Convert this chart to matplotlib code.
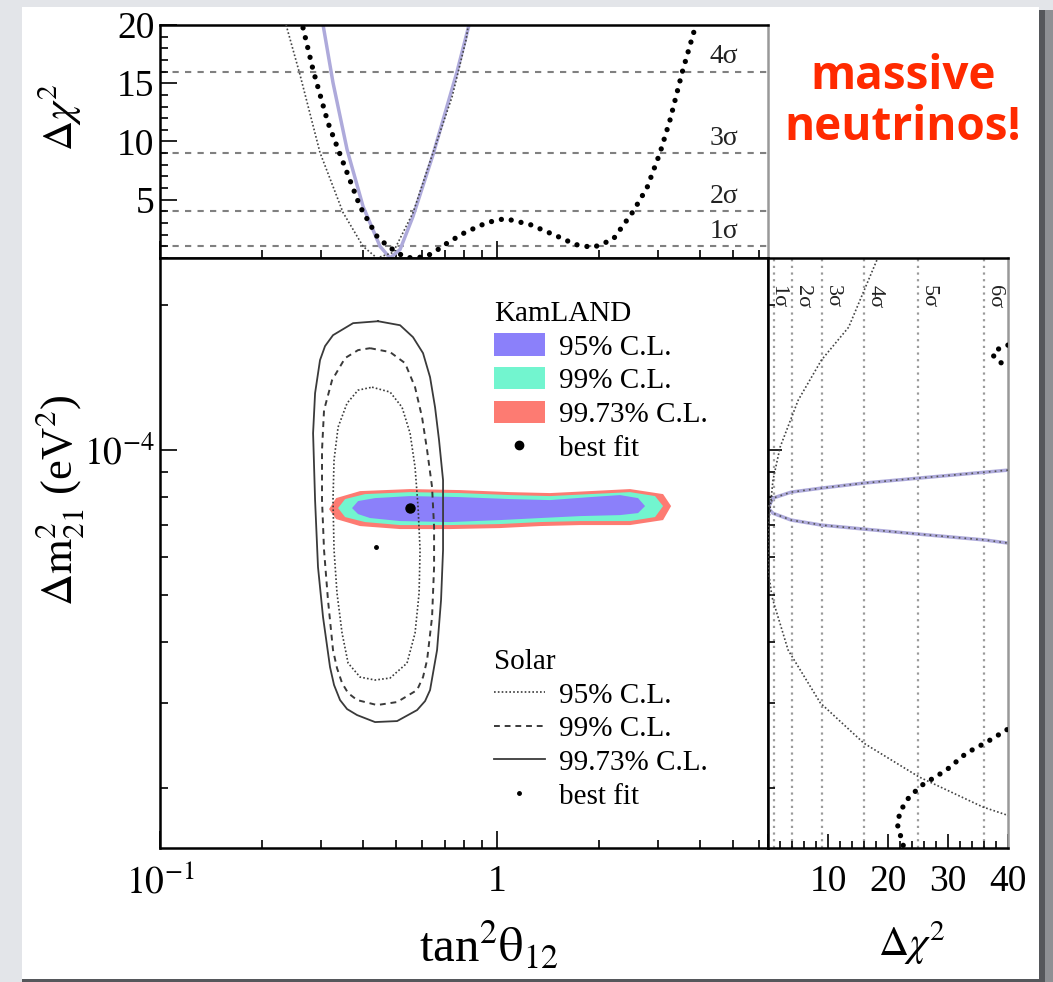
import numpy as np
import matplotlib.pyplot as plt
from matplotlib.patches import Rectangle, Patch
from matplotlib.lines import Line2D
from matplotlib.ticker import MultipleLocator, NullFormatter

plt.rcParams["font.family"] = ["Liberation Serif", "DejaVu Serif"]
plt.rcParams["mathtext.fontset"] = "stix"

# ---- data (tan^2 theta12, dm2 in 1e-5 eV^2, delta chi^2) ----
# KamLAND allowed regions, closed outlines
kl95_tan = [0.3713, 0.3869, 0.4345, 0.5519, 0.7764, 1.093, 1.436, 1.888, 2.317, 2.62, 2.749,
            2.62, 2.317, 1.763, 1.341, 1.021, 0.7253, 0.5155, 0.42, 0.3869]
kl95_dm = [7.585, 7.843, 7.955, 8.032, 7.993, 7.918, 7.88, 7.993, 8.07, 7.955, 7.658,
           7.406, 7.336, 7.301, 7.233, 7.164, 7.096, 7.13, 7.233, 7.371]
kl99_tan = [0.3375, 0.354, 0.4058, 0.5519, 0.7764, 1.093, 1.436, 1.888, 2.481, 2.943, 3.109,
            2.943, 2.481, 1.763, 1.341, 1.021, 0.7253, 0.5155, 0.4058, 0.354]
kl99_dm = [7.585, 7.918, 8.108, 8.185, 8.148, 8.07, 8.032, 8.108, 8.185, 8.032, 7.658,
           7.267, 7.13, 7.13, 7.096, 7.029, 6.995, 6.995, 7.096, 7.267]
kl997_tan = [0.3173, 0.333, 0.3922, 0.5519, 0.7764, 1.093, 1.436, 1.888, 2.481, 3.109, 3.284,
             3.109, 2.481, 1.763, 1.341, 1.021, 0.7253, 0.5155, 0.3922, 0.333]
kl997_dm = [7.549, 7.955, 8.225, 8.305, 8.265, 8.185, 8.148, 8.225, 8.305, 8.108, 7.658,
            7.164, 6.995, 6.995, 6.962, 6.896, 6.863, 6.863, 6.962, 7.198]
kl_best = (0.552, 7.58)

# Solar allowed regions, closed outlines
sol95_tan = [0.4257, 0.4815, 0.5224, 0.5519, 0.571, 0.5829, 0.5909, 0.587, 0.571, 0.5406, 0.4815,
             0.4345, 0.3922, 0.3614, 0.3468, 0.335, 0.3283, 0.326, 0.3283, 0.3375, 0.3589, 0.3869]
sol95_dm = [13.5, 13.19, 12.27, 10.84, 9.222, 7.62, 6.209, 5.057, 4.179, 3.622, 3.373,
            3.341, 3.388, 3.622, 4.179, 5.057, 6.209, 7.88, 9.535, 11.16, 12.51, 13.31]
sol99_tan = [0.42, 0.4815, 0.5333, 0.571, 0.599, 0.62, 0.6414, 0.6503, 0.6503, 0.6414, 0.62, 0.603,
             0.579, 0.5051, 0.4405, 0.3842, 0.3614, 0.3468, 0.335, 0.326, 0.315, 0.3066, 0.3024,
             0.3024, 0.3066, 0.3239, 0.354, 0.3869]
sol99_dm = [16.26, 15.96, 15.14, 13.5, 11.7, 10.0, 8.384, 6.929, 5.727, 4.511, 3.675, 3.388,
            3.185, 3.008, 2.965, 3.037, 3.14, 3.293, 3.537, 3.854, 4.892, 6.209, 7.88,
            10.0, 12.1, 13.96, 15.51, 16.11]
sol997_tan = [0.4435, 0.5155, 0.563, 0.603, 0.6327, 0.6546, 0.6727, 0.6914, 0.6914, 0.6914, 0.682,
              0.6637, 0.6327, 0.6115, 0.579, 0.5051, 0.4345, 0.3842, 0.3589, 0.342, 0.3283,
              0.3194, 0.3045, 0.2942, 0.2884, 0.2845, 0.2884, 0.2983, 0.3087, 0.326, 0.3739]
sol997_dm = [18.49, 18.14, 17.14, 15.88, 14.16, 12.27, 10.49, 8.668, 7.267, 6.209, 4.892,
             3.854, 3.185, 3.022, 2.895, 2.747, 2.734, 2.827, 2.909, 3.037, 3.263,
             3.554, 4.511, 5.727, 7.88, 10.84, 13.12, 15.36, 16.42, 17.3, 18.32]
sol_best = (0.437, 6.3)

# delta chi^2 profiles vs tan^2 theta12 (top panel)
top_kl_tan = [0.2656, 0.2844, 0.315, 0.3468, 0.3922, 0.4405, 0.4749, 0.53, 0.56, 0.60, 0.6241,
              0.6682, 0.7155, 0.8035, 0.934, 1.056, 1.253, 1.538, 1.704, 1.927, 2.209, 2.532,
              2.787, 3.046, 3.262, 3.54, 3.868]
top_kl_chi = [19.75, 16.15, 11.6, 8.44, 4.41, 1.84, 0.99, 0.1, 0.0, 0.08, 0.21,
              0.73, 1.33, 2.19, 3.04, 3.38, 2.87, 1.76, 1.16, 0.9, 1.59, 3.98,
              6.04, 9.04, 11.87, 15.9, 19.75]
top_sol_tan = [0.2366, 0.2602, 0.2983, 0.3491, 0.4004, 0.44, 0.4913, 0.5634, 0.6457, 0.7356, 0.8091, 0.8204]
top_sol_chi = [20.0, 15.72, 9.04, 3.9, 0.99, 0.0, 0.47, 3.9, 9.04, 13.84, 18.72, 19.84]
top_glob_tan = [0.3046, 0.326, 0.3589, 0.4004, 0.4496, 0.4815, 0.5155, 0.563, 0.6457, 0.7606, 0.8257]
top_glob_chi = [20.0, 15.04, 9.3, 4.41, 0.99, 0.0, 0.73, 3.56, 8.87, 15.98, 20.0]

# delta chi^2 profiles vs dm2 (right panel)
r_glob_chi = [40, 36.3, 25.04, 15.97, 8.91, 3.87, 0.84, 0.0, 0.84, 3.87, 8.91, 15.97, 25.04, 36.3, 40]
r_glob_dm = [9.09, 9.004, 8.749, 8.545, 8.343, 8.185, 7.955, 7.585, 7.40, 7.164, 6.995, 6.863, 6.701, 6.512, 6.42]
r_kl_hi_chi = [40, 37.98, 37.48, 38.66, 40]
r_kl_hi_dm = [16.5, 16.11, 15.73, 15.21, 14.93]
r_kl_lo_chi = [23.0, 21.51, 22.18, 23.53, 25.71, 29.75, 33.1, 36.47, 40]
r_kl_lo_dm = [1.45, 1.689, 1.798, 1.912, 2.025, 2.175, 2.359, 2.485, 2.644]
r_sol_chi = [18.15, 13.45, 8.91, 5.04, 2.02, 0.84, 0.17, 0.0, 0.17, 0.67, 3.36, 8.74, 15.97, 25.2, 35.8, 40.3]
r_sol_dm = [24.74, 17.97, 15.36, 12.69, 10.14, 8.668, 7.164, 6.3, 5.51, 4.963, 3.854, 2.994, 2.473, 2.104, 1.824, 1.747]

sigma_levels = [1, 4, 9, 16, 25, 36]
sigma_labels = ["1σ", "2σ", "3σ", "4σ", "5σ", "6σ"]
sigma_text_x = [0.0, 4.2, 9.2, 16.2, 25.2, 36.2]

c95, c99, c997 = "#8b80fa", "#72f5cf", "#fd7b72"
c_glob = "#aeaadb"
c_sol = "#3a3a3a"
E5 = 1e-5

fig = plt.figure(figsize=(10.53, 9.82), dpi=100)
fig.patch.set_facecolor("#e3e5e9")
fig.add_artist(Rectangle((22 / 1053, 3 / 982), 1017 / 1053, 972 / 982, transform=fig.transFigure,
                         facecolor="white", edgecolor="none", zorder=-5))
fig.add_artist(Rectangle((1039 / 1053, 0), 6 / 1053, 972 / 982, transform=fig.transFigure,
                         facecolor="#55575b", edgecolor="none", zorder=-5))
fig.add_artist(Rectangle((1045 / 1053, 0), 8 / 1053, 972 / 982, transform=fig.transFigure,
                         facecolor="#8e9094", edgecolor="none", zorder=-5))
fig.add_artist(Rectangle((22 / 1053, 0), 1017 / 1053, 3 / 982, transform=fig.transFigure,
                         facecolor="#55575b", edgecolor="none", zorder=-5))

ax_top = fig.add_axes([0.152, 0.7373, 0.5774, 0.2373])
ax = fig.add_axes([0.152, 0.1365, 0.5774, 0.6008])
ax_r = fig.add_axes([0.7293, 0.1365, 0.2279, 0.6008])

xlim = (0.1, 6.37)
ylim = (1.5e-5, 2.5e-4)
dot_style = dict(color="k", lw=3.8, ls=(0, (0.01, 1.9)), dash_capstyle="round")
fine_dot = (0, (1, 1.3))

# ---- main panel ----
ax.fill(kl997_tan, np.array(kl997_dm) * E5, color=c997, lw=0, zorder=1)
ax.fill(kl99_tan, np.array(kl99_dm) * E5, color=c99, lw=0, zorder=2)
ax.fill(kl95_tan, np.array(kl95_dm) * E5, color=c95, lw=0, zorder=3)
ax.plot(sol95_tan + sol95_tan[:1], np.array(sol95_dm + sol95_dm[:1]) * E5,
        color=c_sol, lw=1.2, ls=fine_dot, zorder=4)
ax.plot(sol99_tan + sol99_tan[:1], np.array(sol99_dm + sol99_dm[:1]) * E5,
        color=c_sol, lw=1.4, ls=(0, (3, 2.5)), zorder=4)
ax.plot(sol997_tan + sol997_tan[:1], np.array(sol997_dm + sol997_dm[:1]) * E5,
        color=c_sol, lw=1.3, zorder=4)
ax.plot(kl_best[0], kl_best[1] * E5, "o", color="k", ms=6.5, zorder=5)
ax.plot(sol_best[0], sol_best[1] * E5, "o", color="k", ms=2.5, zorder=5)

ax.set_xscale("log")
ax.set_yscale("log")
ax.set_xlim(*xlim)
ax.set_ylim(*ylim)
ax.set_xticks([0.1, 1])
ax.set_xticklabels([r"$10^{-1}$", "1"])
ax.set_yticks([1e-4])
ax.set_yticklabels([r"$10^{-4}$"])
ax.xaxis.set_minor_formatter(NullFormatter())
ax.yaxis.set_minor_formatter(NullFormatter())
ax.tick_params(which="both", direction="in", labelsize=27, width=1.2)
ax.tick_params(which="major", length=12, pad=12)
ax.tick_params(which="minor", length=6)
ax.tick_params(axis="y", which="major", pad=4)
for s in ax.spines.values():
    s.set_linewidth(1.8)

leg_kw = dict(loc="upper left", frameon=False, fontsize=21, title_fontsize=21,
              handlelength=1.75, handleheight=0.79, handletextpad=0.5, labelspacing=0.22,
              borderpad=0, borderaxespad=0, alignment="left")
kl_handles = [Patch(facecolor=c95, edgecolor="none"), Patch(facecolor=c99, edgecolor="none"),
              Patch(facecolor=c997, edgecolor="none"),
              Line2D([], [], marker="o", color="k", ls="none", ms=6)]
leg1 = ax.legend(kl_handles, ["95% C.L.", "99% C.L.", "99.73% C.L.", "best fit"], title="KamLAND",
                 bbox_to_anchor=(0.549, 0.927), **leg_kw)
ax.add_artist(leg1)
sol_handles = [Line2D([], [], color=c_sol, lw=1.2, ls=fine_dot),
               Line2D([], [], color=c_sol, lw=1.4, ls=(0, (3, 2.5))),
               Line2D([], [], color=c_sol, lw=1.3),
               Line2D([], [], marker="o", color="k", ls="none", ms=2.5)]
ax.legend(sol_handles, ["95% C.L.", "99% C.L.", "99.73% C.L.", "best fit"], title="Solar",
          bbox_to_anchor=(0.549, 0.337), **leg_kw)

# ---- top panel ----
for lv in sigma_levels[:4]:
    ax_top.axhline(lv, color="#808080", lw=1.5, ls=(0, (3, 3)), zorder=1)
for lv, lab in zip(sigma_levels[:4], sigma_labels[:4]):
    ax_top.text(5.2, lv + 0.7, lab, ha="right", va="baseline", fontsize=20, color="#222222")
ax_top.plot(top_glob_tan, top_glob_chi, color=c_glob, lw=2.5, zorder=2)
ax_top.plot(top_sol_tan, top_sol_chi, color="#444444", lw=1.2, ls=fine_dot, zorder=3)
ax_top.plot(top_kl_tan, top_kl_chi, zorder=4, **dot_style)
ax_top.set_xscale("log")
ax_top.set_xlim(*xlim)
ax_top.set_ylim(0, 20)
ax_top.set_yticks([5, 10, 15, 20])
ax_top.yaxis.set_minor_locator(MultipleLocator(1))
ax_top.xaxis.set_major_formatter(NullFormatter())
ax_top.xaxis.set_minor_formatter(NullFormatter())
ax_top.tick_params(which="both", direction="in", labelsize=27, width=1.2)
ax_top.tick_params(which="major", length=12, pad=4)
ax_top.tick_params(which="minor", length=6)
for s in ax_top.spines.values():
    s.set_linewidth(1.8)
ax_top.spines["right"].set_color("#999999")

# ---- right panel ----
for lv in sigma_levels:
    ax_r.axvline(lv, color="#9a9a9a", lw=1.6, ls=(0, (1, 2)), zorder=1)
for tx, lab in zip(sigma_text_x, sigma_labels):
    ax_r.text(tx, 2.2e-4, lab, rotation=-90, ha="left", va="top", fontsize=16, color="#222222")
ax_r.plot(r_glob_chi, np.array(r_glob_dm) * E5, color=c_glob, lw=2.5, zorder=2)
ax_r.plot(r_glob_chi, np.array(r_glob_dm) * E5, color="#555555", lw=1.2, ls=(0, (1, 2.5)), zorder=3)
ax_r.plot(r_sol_chi, np.array(r_sol_dm) * E5, color="#444444", lw=1.2, ls=fine_dot, zorder=3)
ax_r.plot(r_kl_hi_chi, np.array(r_kl_hi_dm) * E5, zorder=4, **dot_style)
ax_r.plot(r_kl_lo_chi, np.array(r_kl_lo_dm) * E5, zorder=4, **dot_style)
ax_r.set_yscale("log")
ax_r.set_ylim(*ylim)
ax_r.set_xlim(0, 40)
ax_r.set_xticks([0, 10, 20, 30, 40])
ax_r.set_xticklabels(["", "10", "20", "30", "40"])
ax_r.xaxis.set_minor_locator(MultipleLocator(2))
ax_r.yaxis.set_major_formatter(NullFormatter())
ax_r.yaxis.set_minor_formatter(NullFormatter())
ax_r.tick_params(which="both", direction="in", labelsize=27, width=1.2)
ax_r.tick_params(which="major", length=10, pad=12)
ax_r.tick_params(which="minor", length=5)
for s in ax_r.spines.values():
    s.set_linewidth(1.8)
ax_r.spines["right"].set_color("#999999")

# ---- axis titles ----
fig.text(0.0565, 0.4908, r"$\Delta\mathrm{m}^2_{21}$ (eV$^2$)", rotation=90,
         ha="center", va="center", fontsize=32)
fig.text(0.057, 0.8809, r"$\Delta\chi^2$", rotation=90, ha="center", va="center", fontsize=30)
fig.text(0.4644, 0.0377, r"tan$^2\mathrm{\theta}_{12}$", ha="center", va="center", fontsize=35)
fig.text(0.8661, 0.0397, r"$\Delta\chi^2$", ha="center", va="center", fontsize=30)

fig.text(0.8575, 0.9216, "massive", ha="center", va="center", fontsize=33,
         fontweight="bold", color="#ff2a00", family=["Open Sans", "DejaVu Sans"])
fig.text(0.8575, 0.8697, "neutrinos!", ha="center", va="center", fontsize=33,
         fontweight="bold", color="#ff2a00", family=["Open Sans", "DejaVu Sans"])

fig.savefig("out.png", dpi=100, facecolor=fig.get_facecolor())
